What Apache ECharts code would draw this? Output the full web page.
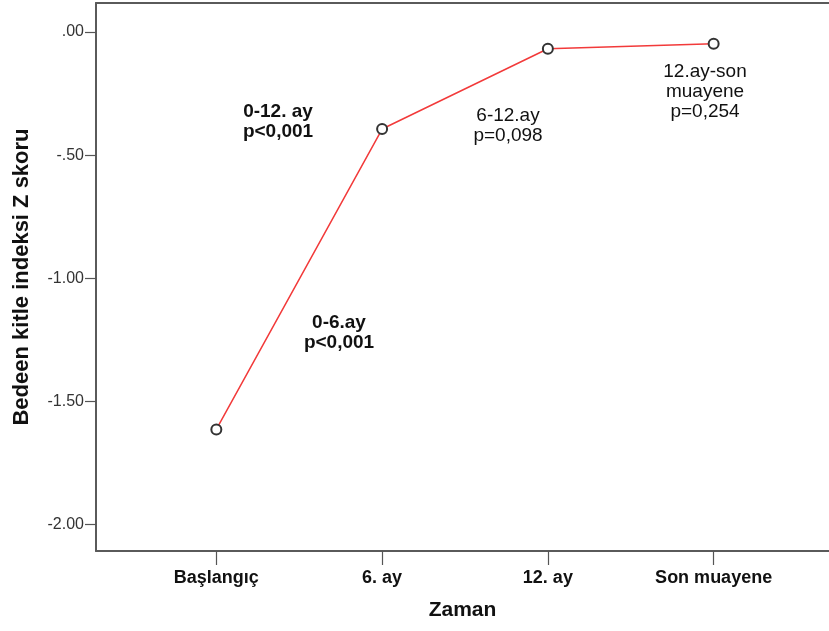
<!DOCTYPE html>
<html>
<head>
<meta charset="utf-8">
<script src="https://cdn.jsdelivr.net/npm/echarts@6/dist/echarts.min.js"></script>
<style>html,body{margin:0;padding:0;background:#fff}#c{width:829px;height:631px}</style>
</head>
<body>
<div id="c"></div>
<script>
const categories = ['Başlangıç', '6. ay', '12. ay', 'Son muayene'];
const bmiZ = [-1.614, -0.394, -0.068, -0.048];
const yTicks = [-2.0, -1.5, -1.0, -0.5, 0.0];
const annotations = [
  { text: '0-12. ay\np<0,001', bold: true, x: 278, y: 122 },
  { text: '6-12.ay\np=0,098', bold: false, x: 508, y: 126 },
  { text: '12.ay-son\nmuayene\np=0,254', bold: false, x: 705, y: 92 },
  { text: '0-6.ay\np<0,001', bold: true, x: 339, y: 333 }
];
const FONT = '"Liberation Sans", Arial, Helvetica, sans-serif';
const chart = echarts.init(document.getElementById('c'));
const fmtY = v => { const s = Math.abs(v).toFixed(2).replace(/^0/, ''); return (v < 0 ? '-' : '') + s; };
const catIdx = categories.map((c, i) => i);
const XMIN = -0.7259, XMAX = 3.6959;
const frameLine = { show: true, onZero: false, lineStyle: { color: '#5a5a5a', width: 2 } };
chart.setOption({
  animation: false,
  backgroundColor: '#fff',
  grid: { left: 96, top: 3, width: 734, height: 548 },
  xAxis: [{
    type: 'value', min: XMIN, max: XMAX, position: 'bottom',
    name: 'Zaman', nameLocation: 'middle', nameGap: 49,
    nameTextStyle: { fontFamily: FONT, fontWeight: 'bold', fontSize: 21, color: '#111' },
    axisLine: frameLine,
    splitLine: { show: false },
    axisTick: { show: true, length: 14, customValues: catIdx, lineStyle: { color: '#555', width: 1.2 } },
    axisLabel: { customValues: catIdx, margin: 18, fontFamily: FONT, fontWeight: 'bold', fontSize: 18, color: '#111',
      formatter: v => categories[Math.round(v)] || '' }
  }, {
    type: 'value', min: XMIN, max: XMAX, position: 'top',
    axisLine: frameLine, axisTick: { show: false }, axisLabel: { show: false }, splitLine: { show: false }
  }],
  yAxis: {
    type: 'value', min: -2.108, max: 0.118,
    name: 'Bedeen kitle indeksi Z skoru', nameLocation: 'middle', nameGap: 63,
    nameTextStyle: { fontFamily: FONT, fontWeight: 'bold', fontSize: 22, color: '#111' },
    axisLine: frameLine,
    splitLine: { show: false },
    axisTick: { show: true, length: 11, customValues: yTicks, lineStyle: { color: '#555', width: 1.2 } },
    axisLabel: { customValues: yTicks, margin: 12, fontFamily: FONT, fontSize: 16, color: '#333', formatter: fmtY }
  },
  graphic: annotations.map(a => ({
    type: 'text', x: a.x, y: a.y, z: 10,
    style: { text: a.text, align: 'center', verticalAlign: 'middle', fontFamily: FONT,
      fontWeight: a.bold ? 'bold' : 'normal', fontSize: 19, lineHeight: 20, fill: '#111' }
  })),
  series: [{
    type: 'line', xAxisIndex: 0,
    data: bmiZ.map((v, i) => [i, v]),
    symbol: 'emptyCircle', symbolSize: 10,
    lineStyle: { color: '#f23a3a', width: 1.5 },
    itemStyle: { color: '#333', borderColor: '#333', borderWidth: 1.3 }
  }]
});
</script>
</body>
</html>
